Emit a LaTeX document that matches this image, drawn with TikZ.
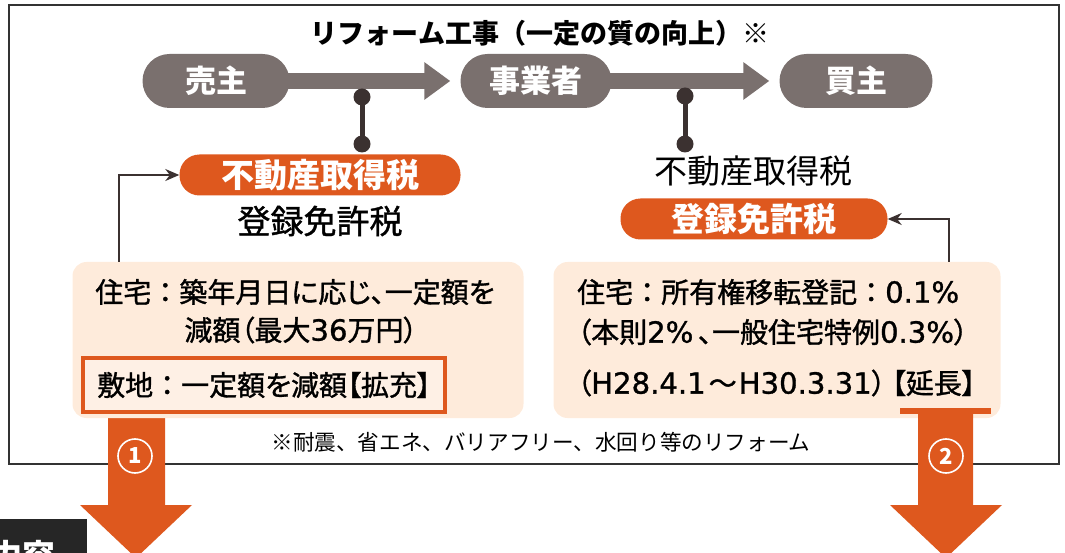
\documentclass[tikz,border=0pt]{standalone}
\usepackage{fontspec}
\newfontfamily\jp{Noto Sans CJK JP}
\newfontfamily\jpmid[FakeBold=1.2]{Noto Sans CJK JP}
\newfontfamily\jpbox[FakeBold=1.2,RawFeature=+palt]{Noto Sans CJK JP}
\newfontfamily\lat[FakeBold=1,Scale=1.04]{DejaVu Sans}
\newcommand\fullcol{{\jpmid ：}}
\usetikzlibrary{arrows.meta}
\definecolor{pillgray}{RGB}{122,112,110}
\definecolor{linkdark}{RGB}{59,49,48}
\definecolor{taxorange}{RGB}{222,88,30}
\definecolor{peach}{RGB}{254,235,219}
\definecolor{peachlight}{RGB}{254,240,229}
\begin{document}
\begin{tikzpicture}[x=1pt,y=-1pt,
    party/.style={fill=pillgray,rounded corners=27pt,minimum height=54pt,text=white,inner sep=0pt,
      font=\jp\bfseries\fontsize{31}{36}\selectfont},
    flow/.style={line width=16pt,pillgray,-{Triangle[length=26pt,width=36pt]},shorten >=10pt,shorten <=-3pt},
    taxpill/.style={fill=taxorange,rounded corners=20pt,minimum height=41pt,text=white,inner sep=0pt,
      font=\jp\bfseries\fontsize{33}{38}\selectfont},
    taxtext/.style={inner sep=0pt,font=\jpmid\fontsize{33}{38}\selectfont},
    infobox/.style={fill=peach,rounded corners=14pt,minimum width=#1,minimum height=156pt,inner sep=0pt},
    infotext/.style={inner sep=0pt,font=\jpbox\fontsize{28}{32}\selectfont},
    bigarrow/.style={fill=taxorange},
    numcirc/.style={circle,draw=white,line width=1.6pt,minimum size=34pt,inner sep=0pt,text=white,
      font=\jp\bfseries\fontsize{22}{24}\selectfont},
    link/.style={line width=5pt,linkdark},
    thin/.style={line width=1.8pt,linkdark,-{Stealth[length=14pt,width=12pt]}}]
  \clip (0,0) rectangle (1065,553);
  % frame
  \draw[line width=2pt,black!80] (9,5) rectangle (1059,464);
  % title
  \node[inner sep=0pt,font=\jp\bfseries\fontsize{27}{32}\selectfont] (title) at (540,33) {リフォーム工事（一定の質の向上）※};
  % parties
  \node[party,minimum width=147pt] (seller) at (216,81) {売主};
  \node[party,minimum width=151pt] (dealer) at (536,81) {事業者};
  \node[party,minimum width=153pt] (buyer) at (856,81) {買主};
  \draw[flow] (seller.east) -- (dealer.west);
  \draw[flow] (dealer.east) -- (buyer.west);
  % taxes
  \node[taxpill,minimum width=281pt] (acqL) at (320,175) {不動産取得税};
  \node[taxtext] (regL) at (320,221) {登録免許税};
  \node[taxtext,font=\jp\fontsize{33}{38}\selectfont] (acqR) at (753,171) {不動産取得税};
  \node[taxpill,minimum width=267pt] (regR) at (754,219) {登録免許税};
  \coordinate (dotL1) at (362,97);
  \coordinate (dotL2) at (362,144);
  \coordinate (dotR1) at (685,96);
  \coordinate (dotR2) at (685,144);
  \draw[link] (dotL1) -- (dotL2);
  \draw[link] (dotR1) -- (dotR2);
  \foreach \d in {dotL1,dotL2,dotR1,dotR2}
    \fill[linkdark] (\d) circle (8.5pt);
  % big arrows
  \fill[bigarrow] (108,400) -- (165,400) -- (165,505) -- (192,505) -- (136,558)
    -- (80,505) -- (108,505) -- cycle;
  % info boxes
  \node[infobox=451pt] (boxL) at (298,340) {};
  \node[infobox=447pt] (boxR) at (777,340) {};
  \coordinate (upL) at (119,262);
  \coordinate (upR) at (949,262);
  \draw[thin] (upL) |- (acqL.west);
  \draw[thin] (upR) |- (regR.east);
  \node[infotext] (houseL) at (295,292) {住宅\fullcol 築年月日に応じ、一定額を};
  \node[infotext] (cutL) at (301,330) {減額（最大{\lat 36}万円）};
  \draw[taxorange,line width=4pt,fill=peachlight] (83,358) rectangle (445,412);
  \node[infotext,anchor=west] (landL) at (97,385) {敷地\fullcol 一定額を減額【拡充】};
  \node[infotext,anchor=west] (houseR) at (577,292) {住宅\fullcol 所有権移転登記\fullcol{\lat 0.1\%}};
  \node[infotext,anchor=west] (rateR) at (577,332) {（本則{\lat 2\%}\,、一般住宅特例{\lat 0.3\%}）};
  \node[infotext,anchor=west] (termR) at (577,383) {（{\lat H28.4.1}\hspace{3pt}{\jpmid ～}\hspace{2pt}{\lat H30.3.31}）\hspace{6pt}【延長】};
  \fill[bigarrow] (900,408) rectangle (991,414);
  \fill[bigarrow] (918,414) -- (973,414) -- (973,505) -- (1002,505) -- (946,558)
    -- (890,505) -- (918,505) -- cycle;
  \node[numcirc] (no1) at (135,456) {1};
  \node[numcirc] (no2) at (946,456) {2};
  % note
  \node[inner sep=0pt,font=\jp\fontsize{21.6}{26}\selectfont] (note) at (541,442) {※耐震、省エネ、バリアフリー、水回り等のリフォーム};
  % next section label
  \draw[fill=taxorange,line width=3pt,black!85] (-5,520) rectangle (85,580);
  \node[inner sep=0pt,text=white,font=\jp\bfseries\fontsize{33}{38}\selectfont] (nextL) at (23,556) {内容};
\end{tikzpicture}
\end{document}
